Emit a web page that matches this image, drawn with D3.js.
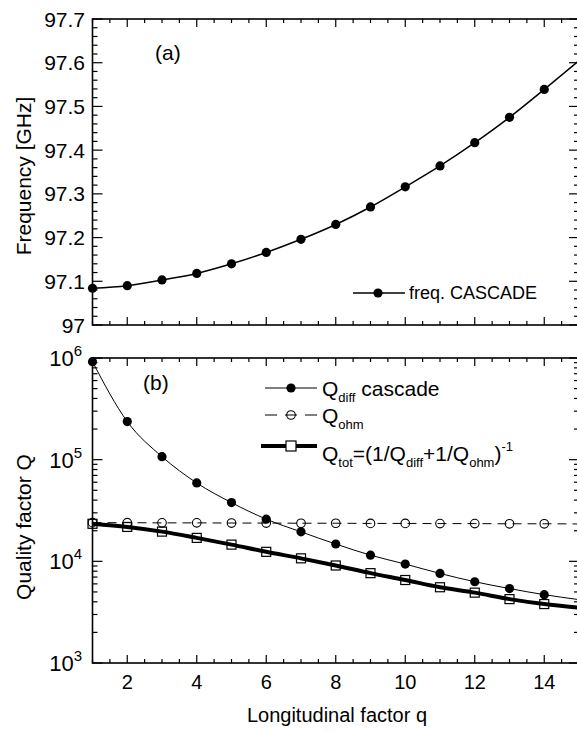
<!DOCTYPE html>
<html>
<head>
<meta charset="utf-8">
<script src="https://cdn.jsdelivr.net/npm/d3@7"></script>
<style>
  html, body { margin: 0; padding: 0; background: #fff; }
  svg { display: block; font-family: "Liberation Sans", Arial, sans-serif; }
</style>
</head>
<body>
<div id="chart"></div>
<script>
// Longitudinal factor q (x values, shared by both panels).
const qValues = [1, 2, 3, 4, 5, 6, 7, 8, 9, 10, 11, 12, 13, 14, 15];

// Panel (a): frequency from CASCADE [GHz].
const freqCascade = [97.084, 97.090, 97.103, 97.118, 97.140, 97.166, 97.196, 97.230,
  97.270, 97.316, 97.364, 97.417, 97.475, 97.539, 97.605];

// Panel (b): quality factors.
const qDiff = [9.2e5, 2.37e5, 1.07e5, 5.9e4, 3.78e4, 2.6e4, 1.95e4, 1.48e4,
  1.15e4, 9.4e3, 7.6e3, 6.3e3, 5.4e3, 4.7e3, 4.2e3];
const qOhm = [2.40e4, 2.40e4, 2.39e4, 2.39e4, 2.38e4, 2.38e4, 2.37e4, 2.37e4,
  2.36e4, 2.36e4, 2.35e4, 2.35e4, 2.34e4, 2.34e4, 2.33e4];
const qTot = [2.34e4, 2.18e4, 1.96e4, 1.70e4, 1.46e4, 1.24e4, 1.07e4, 9.1e3,
  7.65e3, 6.55e3, 5.56e3, 4.92e3, 4.25e3, 3.8e3, 3.5e3];

// Tick labels.
const xTickLabels = [2, 4, 6, 8, 10, 12, 14];
const freqTickLabels = [97, 97.1, 97.2, 97.3, 97.4, 97.5, 97.6, 97.7];
const logTickLabels = [1e3, 1e4, 1e5, 1e6];

const width = 577;
const height = 731;

const svg = d3.select("#chart")
  .append("svg")
  .attr("width", width)
  .attr("height", height);

/**
 * Scales.
 */
const left = 92.5;
const right = 579;
const x = d3.scaleLinear().domain([1, 15]).range([left, right]);

const topA = 19, bottomA = 325;
const yA = d3.scaleLinear().domain([97, 97.7]).range([bottomA, topA]);

const topB = 358, bottomB = 663;
const yB = d3.scaleLog().domain([1e3, 1e6]).range([bottomB, topB]);

// Markers stop at q = 14, the line runs on to the frame edge.
const markerShown = (i) => qValues[i] < 15;

/**
 * Draws the framed box with inward ticks on all four sides.
 */
function drawFrame(y, yMajor, yMinor, top, bottom) {
  const g = svg.append("g");
  const xMajor = d3.range(2, 15, 2);
  const xMinor = d3.range(1, 15.01, 0.5).filter((v) => v % 2 !== 0);

  // Bottom and top ticks.
  const xTicks = xMajor.map((v) => ({ v, len: 8 })).concat(xMinor.map((v) => ({ v, len: 4 })));
  g.selectAll(".xb").data(xTicks).join("line")
    .attr("x1", (d) => x(d.v)).attr("x2", (d) => x(d.v))
    .attr("y1", bottom).attr("y2", (d) => bottom - d.len)
    .attr("stroke", "#000").attr("stroke-width", 1.2);
  g.selectAll(".xt").data(xTicks).join("line")
    .attr("x1", (d) => x(d.v)).attr("x2", (d) => x(d.v))
    .attr("y1", top).attr("y2", (d) => top + d.len)
    .attr("stroke", "#000").attr("stroke-width", 1.2);

  // Left and right ticks.
  const yTicks = yMajor.map((v) => ({ v, len: 10 })).concat(yMinor.map((v) => ({ v, len: 5 })));
  g.selectAll(".yl").data(yTicks).join("line")
    .attr("x1", left).attr("x2", (d) => left + d.len)
    .attr("y1", (d) => y(d.v)).attr("y2", (d) => y(d.v))
    .attr("stroke", "#000").attr("stroke-width", 1.2);
  g.selectAll(".yr").data(yTicks).join("line")
    .attr("x1", right).attr("x2", (d) => right - d.len)
    .attr("y1", (d) => y(d.v)).attr("y2", (d) => y(d.v))
    .attr("stroke", "#000").attr("stroke-width", 1.2);

  // Box.
  g.append("rect")
    .attr("x", left).attr("y", top)
    .attr("width", right - left).attr("height", bottom - top)
    .attr("fill", "none").attr("stroke", "#000").attr("stroke-width", 1.6);
}

/**
 * Panel (a).
 */
const freqMinor = d3.range(0, 36).map((i) => 97 + i * 0.02).filter((_, i) => i % 5 !== 0);
drawFrame(yA, freqTickLabels, freqMinor, topA, bottomA);

svg.selectAll(".ylabA").data(freqTickLabels).join("text")
  .attr("x", 85).attr("y", (d) => yA(d)).attr("dy", "0.36em")
  .attr("text-anchor", "end").attr("font-size", 21)
  .text((d) => d3.format("")(d));

const freqData = qValues.map((q, i) => ({ q, v: freqCascade[i] }));
svg.append("path").datum(freqData)
  .attr("d", d3.line().x((d) => x(d.q)).y((d) => yA(d.v)).curve(d3.curveMonotoneX))
  .attr("fill", "none").attr("stroke", "#000").attr("stroke-width", 1.5);
svg.selectAll(".ptA").data(freqData.filter((d, i) => markerShown(i))).join("circle")
  .attr("cx", (d) => x(d.q)).attr("cy", (d) => yA(d.v)).attr("r", 4.6)
  .attr("fill", "#000");

svg.append("text").attr("x", 155).attr("y", 60).attr("font-size", 21).text("(a)");

// Legend (a).
svg.append("line").attr("x1", 353).attr("x2", 405).attr("y1", 293).attr("y2", 293)
  .attr("stroke", "#000").attr("stroke-width", 1.3);
svg.append("circle").attr("cx", 378).attr("cy", 293).attr("r", 4.6).attr("fill", "#000");
svg.append("text").attr("x", 409).attr("y", 299).attr("font-size", 18).text("freq. CASCADE");

svg.append("text")
  .attr("transform", "translate(31,176) rotate(-90)")
  .attr("text-anchor", "middle").attr("font-size", 21)
  .text("Frequency [GHz]");

/**
 * Panel (b).
 */
const logMinor = [];
[1e3, 1e4, 1e5].forEach((dec) => d3.range(2, 10).forEach((m) => logMinor.push(dec * m)));
drawFrame(yB, logTickLabels, logMinor, topB, bottomB);

const logLab = svg.selectAll(".ylabB").data(logTickLabels).join("text")
  .attr("x", 82).attr("y", (d) => yB(d) + 8)
  .attr("text-anchor", "end").attr("font-size", 22);
logLab.append("tspan").text("10");
logLab.append("tspan").attr("dy", -10).attr("font-size", 15)
  .text((d) => Math.round(Math.log10(d)));

svg.selectAll(".xlab").data(xTickLabels).join("text")
  .attr("x", (d) => x(d)).attr("y", 689)
  .attr("text-anchor", "middle").attr("font-size", 20)
  .text((d) => d);

const lineB = (arr) => d3.line()
  .x((d, i) => x(qValues[i])).y((d) => yB(d))
  .curve(d3.curveMonotoneX)(arr);

const points = (arr) => arr.map((v, i) => ({ q: qValues[i], v })).filter((d, i) => markerShown(i));

// Q_ohm (dashed, open circles).
svg.append("path").attr("d", lineB(qOhm))
  .attr("fill", "none").attr("stroke", "#000").attr("stroke-width", 1)
  .attr("stroke-dasharray", "9,6");
svg.selectAll(".ptOhm").data(points(qOhm)).join("circle")
  .attr("cx", (d) => x(d.q)).attr("cy", (d) => yB(d.v)).attr("r", 4.3)
  .attr("fill", "none").attr("stroke", "#000").attr("stroke-width", 1.1);

// Q_diff (thin line, filled circles).
svg.append("path").attr("d", lineB(qDiff))
  .attr("fill", "none").attr("stroke", "#000").attr("stroke-width", 1);
svg.selectAll(".ptDiff").data(points(qDiff)).join("circle")
  .attr("cx", (d) => x(d.q)).attr("cy", (d) => yB(d.v)).attr("r", 4.6)
  .attr("fill", "#000");

// Q_tot (thick line, open squares).
svg.append("path").attr("d", lineB(qTot))
  .attr("fill", "none").attr("stroke", "#000").attr("stroke-width", 4);
svg.selectAll(".ptTot").data(points(qTot)).join("rect")
  .attr("x", (d) => x(d.q) - 4.5).attr("y", (d) => yB(d.v) - 4.5)
  .attr("width", 9).attr("height", 9)
  .attr("fill", "none").attr("stroke", "#000").attr("stroke-width", 1.2);

svg.append("text").attr("x", 143).attr("y", 390).attr("font-size", 21).text("(b)");

// Legend (b).
const lgX1 = 265, lgX2 = 317, lgM = 291, lgT = 322;
svg.append("line").attr("x1", lgX1).attr("x2", lgX2).attr("y1", 388).attr("y2", 388)
  .attr("stroke", "#000").attr("stroke-width", 1);
svg.append("circle").attr("cx", lgM).attr("cy", 388).attr("r", 4.6).attr("fill", "#000");

svg.append("line").attr("x1", lgX1).attr("x2", lgX2).attr("y1", 415).attr("y2", 415)
  .attr("stroke", "#000").attr("stroke-width", 1).attr("stroke-dasharray", "12,8");
svg.append("circle").attr("cx", lgM).attr("cy", 415).attr("r", 4.3)
  .attr("fill", "none").attr("stroke", "#000").attr("stroke-width", 1.1);

svg.append("line").attr("x1", lgX1 - 4).attr("x2", lgX2).attr("y1", 446).attr("y2", 446)
  .attr("stroke", "#000").attr("stroke-width", 4);
svg.append("rect").attr("x", lgM - 5).attr("y", 441).attr("width", 10).attr("height", 10)
  .attr("fill", "#fff").attr("stroke", "#000").attr("stroke-width", 1.2);

const t1 = svg.append("text").attr("x", lgT).attr("y", 396).attr("font-size", 21);
t1.append("tspan").text("Q");
t1.append("tspan").attr("dy", 6).attr("font-size", 13).text("diff");
t1.append("tspan").attr("dy", -6).text(" cascade");

const t2 = svg.append("text").attr("x", lgT).attr("y", 423).attr("font-size", 21);
t2.append("tspan").text("Q");
t2.append("tspan").attr("dy", 6).attr("font-size", 13).text("ohm");

const t3 = svg.append("text").attr("x", lgT).attr("y", 461).attr("font-size", 21);
t3.append("tspan").text("Q");
t3.append("tspan").attr("dy", 6).attr("font-size", 13).text("tot");
t3.append("tspan").attr("dy", -6).text("=(1/Q");
t3.append("tspan").attr("dy", 6).attr("font-size", 13).text("diff");
t3.append("tspan").attr("dy", -6).text("+1/Q");
t3.append("tspan").attr("dy", 6).attr("font-size", 13).text("ohm");
t3.append("tspan").attr("dy", -6).text(")");
t3.append("tspan").attr("dy", -10).attr("font-size", 13).text("-1");

svg.append("text")
  .attr("transform", "translate(31,527) rotate(-90)")
  .attr("text-anchor", "middle").attr("font-size", 21)
  .text("Quality factor Q");

svg.append("text")
  .attr("x", 337).attr("y", 722)
  .attr("text-anchor", "middle").attr("font-size", 20)
  .text("Longitudinal factor q");
</script>
</body>
</html>
